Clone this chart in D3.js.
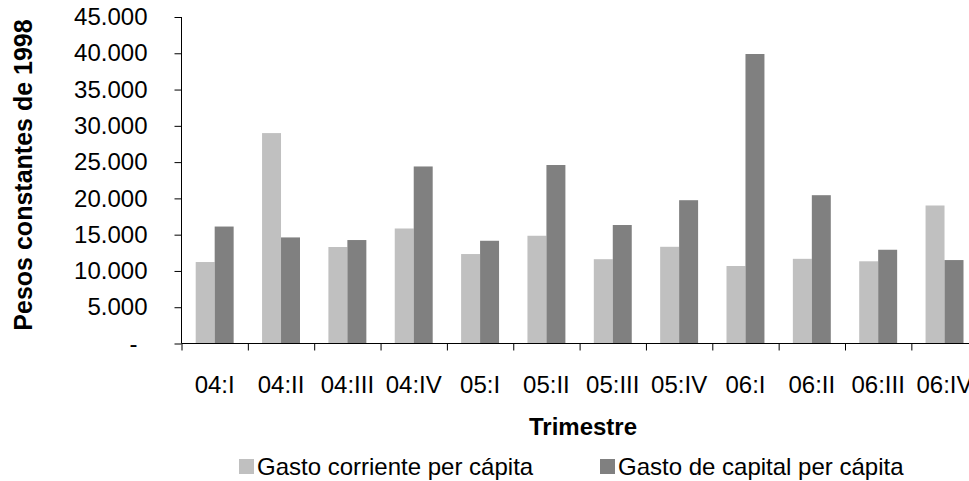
<!DOCTYPE html>
<html>
<head>
<meta charset="utf-8">
<script src="https://cdn.jsdelivr.net/npm/d3@7"></script>
<style>
  html, body { margin: 0; padding: 0; background: #fff; overflow: hidden; }
  svg { display: block; font-family: "Liberation Sans", Arial, sans-serif; }
</style>
</head>
<body>
<svg id="chart" width="969" height="481"></svg>
<script>
const categories = ["04:I","04:II","04:III","04:IV","05:I","05:II","05:III","05:IV","06:I","06:II","06:III","06:IV"];
const seriesNames = ["Gasto corriente per cápita","Gasto de capital per cápita"];
const gastoCorriente = [11230, 29000, 13300, 15850, 12330, 14850, 11620, 13330, 10680, 11670, 11330, 19020];
const gastoCapital   = [16120, 14620, 14260, 24400, 14160, 24600, 16330, 19750, 39900, 20440, 12920, 11500];
const yTicks = [0,5000,10000,15000,20000,25000,30000,35000,40000,45000];
const colors = ["#C0C0C0", "#808080"];

(function () {
const svg = d3.select("#chart");
const plotLeft = 181.5, plotBottom = 343.5, plotTop = 17, step = 66.35;
const plotRight = plotLeft + step * categories.length;

const y = d3.scaleLinear().domain([0, 45000]).range([plotBottom, plotTop]);
const x = d3.scaleBand().domain(categories).range([plotLeft, plotRight]).padding(0);
const x1 = d3.scaleBand().domain(seriesNames).range([14.2, x.bandwidth() - 14.2]).padding(0);

const values = [gastoCorriente, gastoCapital];

// bars
const groups = svg.append("g").selectAll("g")
  .data(categories)
  .join("g")
  .attr("transform", d => `translate(${x(d)},0)`);

groups.selectAll("rect")
  .data((d, i) => seriesNames.map((s, k) => ({ s, v: values[k][i], k })))
  .join("rect")
  .attr("x", d => x1(d.s))
  .attr("width", x1.bandwidth())
  .attr("y", d => y(d.v))
  .attr("height", d => plotBottom - y(d.v))
  .attr("fill", d => colors[d.k]);

const fmt = v => v === 0 ? "-" : d3.format(",")(v).replace(/,/g, ".");

// y axis
const yAxis = svg.append("g")
  .attr("transform", `translate(${plotLeft},0)`)
  .call(d3.axisLeft(y).tickValues(yTicks).tickFormat(fmt).tickSize(7).tickPadding(27));
yAxis.select(".domain").attr("stroke", "#000").attr("d", `M0,${plotTop}V${plotBottom}`);
yAxis.selectAll(".tick line").attr("stroke", "#000");
yAxis.selectAll(".tick text")
  .attr("font-size", 24)
  .attr("fill", "#000")
  .attr("font-family", "Liberation Sans, Arial, sans-serif")
  .filter(d => d === 0).attr("x", -44);

// x axis boundary ticks
const xb = d3.scaleLinear().domain([0, categories.length]).range([plotLeft, plotRight]);
const xAxisTicks = svg.append("g")
  .attr("transform", `translate(0,${plotBottom})`)
  .call(d3.axisBottom(xb).tickValues(d3.range(0, categories.length + 1)).tickFormat("").tickSize(7));
xAxisTicks.select(".domain").attr("stroke", "#000").attr("d", `M${plotLeft},0H${plotRight}`);
xAxisTicks.selectAll(".tick line").attr("stroke", "#000");

// x labels
const xAxisLabels = svg.append("g")
  .attr("transform", `translate(0,${plotBottom})`)
  .call(d3.axisBottom(x).tickSize(0).tickPadding(32));
xAxisLabels.select(".domain").remove();
xAxisLabels.selectAll(".tick text")
  .attr("font-size", 24)
  .attr("fill", "#000")
  .attr("font-family", "Liberation Sans, Arial, sans-serif");

// axis titles
svg.append("text")
  .attr("x", 583).attr("y", 435)
  .attr("text-anchor", "middle")
  .attr("font-size", 24).attr("font-weight", "bold")
  .text("Trimestre");

svg.append("text")
  .attr("transform", "translate(32,175) rotate(-90)")
  .attr("text-anchor", "middle")
  .attr("font-size", 25).attr("font-weight", "bold")
  .text("Pesos constantes de 1998");

// legend
const legendX = [239, 600];
const legend = svg.append("g").selectAll("g")
  .data(seriesNames)
  .join("g")
  .attr("transform", (d, i) => `translate(${legendX[i]},459)`);
legend.append("rect").attr("width", 15).attr("height", 15).attr("fill", (d, i) => colors[i]);
legend.append("text")
  .attr("x", 18).attr("y", 16)
  .attr("font-size", 24)
  .text(d => d);
})();
</script>
</body>
</html>
